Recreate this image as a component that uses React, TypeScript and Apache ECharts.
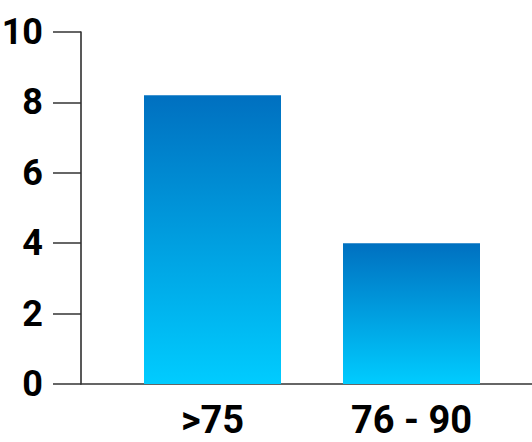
import React, { useEffect, useRef } from "react";
import * as echarts from "echarts";

const categories = [">75", "76 - 90"];
const values = [8.2, 4];
const yTicks = [0, 2, 4, 6, 8, 10];

const FONT = "Roboto, 'Liberation Sans', sans-serif";

export default function App() {
  const ref = useRef<HTMLDivElement>(null);
  useEffect(() => {
    if (!ref.current) return;
    const chart = echarts.init(ref.current, undefined, { renderer: "svg" });
    chart.setOption({
      animation: false,
      grid: [
        { left: 113, right: 21, top: 32, bottom: 58, outerBoundsMode: "none", containLabel: false },
        { left: 81, right: 0, top: 32, bottom: 58, outerBoundsMode: "none", containLabel: false },
      ],
      xAxis: [
        {
          type: "category",
          gridIndex: 0,
          data: categories,
          axisLine: { show: false },
          axisTick: { show: false },
          axisLabel: {
            color: "#000",
            fontFamily: FONT,
            fontWeight: "bold",
            fontSize: 38,
            margin: 17,
          },
        },
        {
          type: "value",
          gridIndex: 1,
          min: 0,
          max: 1,
          axisLine: { show: true, lineStyle: { color: "#333", width: 1.5 } },
          axisTick: { show: false },
          axisLabel: { show: false },
          splitLine: { show: false },
        },
      ],
      yAxis: [
        {
          type: "value",
          gridIndex: 0,
          min: 0,
          max: 10,
          interval: 2,
          show: false,
        },
        {
          type: "value",
          gridIndex: 1,
          min: yTicks[0],
          max: yTicks[yTicks.length - 1],
          interval: 2,
          axisLine: { show: true, lineStyle: { color: "#222", width: 1.5 } },
          axisTick: { show: true, length: 28, lineStyle: { color: "#333", width: 1.5 } },
          splitLine: { show: false },
          axisLabel: {
            color: "#000",
            fontFamily: FONT,
            fontWeight: "bold",
            fontSize: 36,
            margin: 38,
          },
        },
      ],
      series: [
        {
          type: "bar",
          xAxisIndex: 0,
          yAxisIndex: 0,
          data: values,
          barWidth: 137,
          itemStyle: {
            color: new echarts.graphic.LinearGradient(0, 0, 0, 1, [
              { offset: 0, color: "#0070C0" },
              { offset: 1, color: "#00CCFF" },
            ]),
          },
        },
      ],
    });
    return () => chart.dispose();
  }, []);
  return <div ref={ref} style={{ width: 532, height: 442, position: "absolute", left: 0, top: 0 }} />;
}
